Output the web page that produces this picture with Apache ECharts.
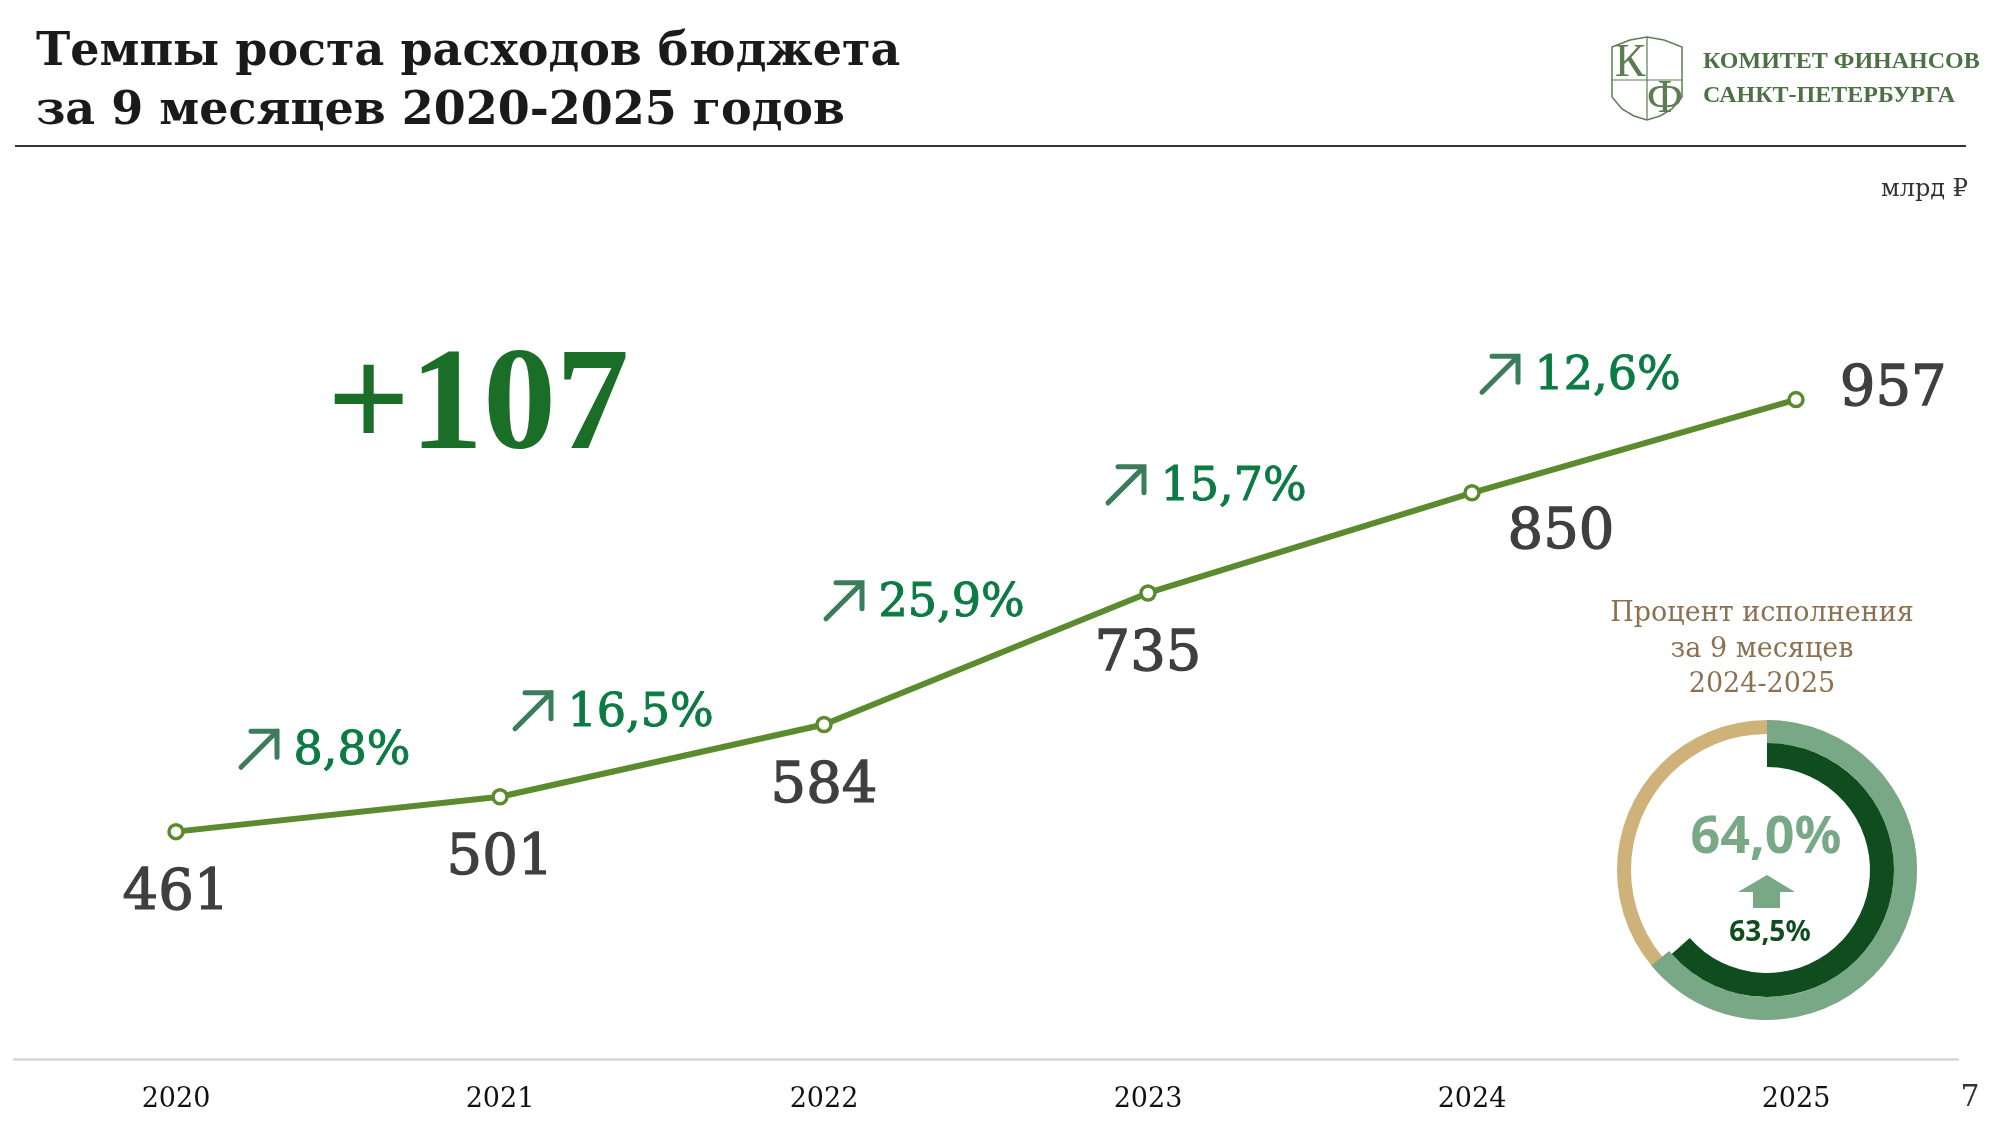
<!DOCTYPE html>
<html>
<head>
<meta charset="utf-8">
<title>Темпы роста расходов бюджета</title>
<script src="https://cdn.jsdelivr.net/npm/echarts@6/dist/echarts.min.js"></script>
<style>
  html, body { margin: 0; padding: 0; background: #fff; }
  #main { width: 2000px; height: 1125px; }
</style>
</head>
<body>
<div id="main"></div>
<script>
// данные
var years = ['2020', '2021', '2022', '2023', '2024', '2025'];
var spending = [461, 501, 584, 735, 850, 957];          // млрд ₽
var growthPct = [8.8, 16.5, 25.9, 15.7, 12.6];          // прирост к прошлому году, %
var executionYears = ['2024', '2025'];
var executionPct = [63.5, 64.0];                        // процент исполнения за 9 месяцев

// сдвиги подписей прироста (чтобы не наезжали на линию)
var growthNudge = [[-79, -65], [-129, -50], [-142, -58], [-184, -58], [-134, -72]];

var GREEN_LINE = '#5b8a2f';
var SERIF = '"DejaVu Serif", serif';

function pct(v) {
    return v.toFixed(1).replace('.', ',') + '%';
}

var myChart = echarts.init(document.getElementById('main'));

var donutCenter = [1767, 870];

var lineData = spending.map(function (v, i) {
    var item = {value: v};
    if (i === 4) {
        item.label = {offset: [89, -22]};
    }
    if (i === spending.length - 1) {
        item.label = {position: 'right', distance: 35, offset: [0, -9]};
    }
    return item;
});

var growthData = growthPct.map(function (g, i) {
    return {
        value: [i + 1, (spending[i] + spending[i + 1]) / 2, g],
        symbolOffset: growthNudge[i]
    };
});

var option = {
    animation: false,
    backgroundColor: '#fff',
    grid: {left: 14, right: 42, top: 275, bottom: 66, containLabel: false},
    xAxis: [
        {
            type: 'category',
            data: years,
            boundaryGap: true,
            axisLine: {show: true, lineStyle: {color: '#d6d6d6', width: 2.5}},
            axisTick: {show: false},
            splitLine: {show: false},
            axisLabel: {color: '#111', fontFamily: SERIF, fontSize: 27, margin: 27}
        },
        {
            type: 'value', min: 0, max: 6, show: false
        }
    ],
    yAxis: {
        type: 'value', min: 200, max: 1100, show: false
    },
    series: [
        {
            name: 'Расходы',
            type: 'line',
            data: lineData,
            lineStyle: {color: GREEN_LINE, width: 6},
            symbol: 'circle',
            symbolSize: 14,
            itemStyle: {color: '#fff', borderColor: GREEN_LINE, borderWidth: 3.5},
            label: {
                show: true,
                position: 'bottom',
                distance: 26,
                color: '#3f3f3f',
                textBorderColor: '#3f3f3f',
                textBorderWidth: 1.3,
                fontFamily: SERIF,
                fontSize: 56
            },
            z: 3
        },
        {
            name: 'Прирост',
            type: 'scatter',
            xAxisIndex: 1,
            data: growthData,
            symbol: 'path://M0,36L36,0M10,0L36,0L36,26',
            symbolSize: 36,
            itemStyle: {color: 'none', borderColor: '#3b7d5a', borderWidth: 5, borderCap: 'round', opacity: 1},
            label: {
                show: true,
                position: 'right',
                distance: 14,
                offset: [0, 3],
                color: '#0b7a43',
                textBorderColor: '#0b7a43',
                textBorderWidth: 1,
                fontFamily: SERIF,
                fontSize: 46,
                formatter: function (p) { return pct(p.value[2]); }
            },
            z: 4
        },
        {
            name: 'фон',
            type: 'pie',
            center: donutCenter,
            radius: [136, 150],
            silent: true,
            label: {show: false},
            labelLine: {show: false},
            itemStyle: {borderWidth: 0},
            data: [{value: 1, itemStyle: {color: '#cfb27a'}}]
        },
        {
            name: executionYears[1],
            type: 'pie',
            center: donutCenter,
            radius: [127, 150],
            startAngle: 90,
            silent: true,
            label: {show: false},
            labelLine: {show: false},
            itemStyle: {borderWidth: 0},
            data: [
                {value: executionPct[1], itemStyle: {color: '#78a886'}},
                {value: 100 - executionPct[1], itemStyle: {color: 'rgba(0,0,0,0)'}}
            ]
        },
        {
            name: executionYears[0],
            type: 'pie',
            center: donutCenter,
            radius: [103, 127],
            startAngle: 90,
            silent: true,
            label: {show: false},
            labelLine: {show: false},
            itemStyle: {borderWidth: 0},
            data: [
                {value: executionPct[0], itemStyle: {color: '#0f4d1e'}},
                {value: 100 - executionPct[0], itemStyle: {color: 'rgba(0,0,0,0)'}}
            ]
        }
    ],
    graphic: [
        // заголовок
        {type: 'text', x: 36, y: 53, style: {text: 'Темпы роста расходов бюджета', fill: '#1a1a1a', font: 'bold 46px "DejaVu Serif"', verticalAlign: 'middle'}},
        {type: 'text', x: 36, y: 112, style: {text: 'за 9 месяцев 2020-2025 годов', fill: '#1a1a1a', font: 'bold 46px "DejaVu Serif"', verticalAlign: 'middle'}},
        {type: 'line', shape: {x1: 15, y1: 146, x2: 1966, y2: 146}, style: {stroke: '#333', lineWidth: 2}},
        // логотип
        {type: 'polygon', shape: {points: [[1612, 47], [1630, 40], [1647, 37], [1664, 40], [1682, 47], [1682, 97],
            [1672, 109], [1660, 116], [1647, 120], [1634, 116], [1622, 109], [1612, 97]]},
            style: {fill: 'none', stroke: '#5d7d52', lineWidth: 1.5}},
        {type: 'line', shape: {x1: 1647, y1: 37, x2: 1647, y2: 120}, style: {stroke: '#5d7d52', lineWidth: 1.2}},
        {type: 'line', shape: {x1: 1612, y1: 80, x2: 1682, y2: 80}, style: {stroke: '#5d7d52', lineWidth: 1.2}},
        {type: 'text', x: 1630, y: 64, style: {text: 'К', fill: '#5d7d52', font: '46px "Liberation Serif"', align: 'center', verticalAlign: 'middle'}},
        {type: 'text', x: 1665, y: 100, style: {text: 'Ф', fill: '#5d7d52', font: '46px "Liberation Serif"', align: 'center', verticalAlign: 'middle'}},
        {type: 'text', x: 1703, y: 62, style: {text: 'КОМИТЕТ ФИНАНСОВ', fill: '#4e7045', font: 'bold 24px "Liberation Serif"', verticalAlign: 'middle'}},
        {type: 'text', x: 1703, y: 96, style: {text: 'САНКТ-ПЕТЕРБУРГА', fill: '#4e7045', font: 'bold 24px "Liberation Serif"', verticalAlign: 'middle'}},
        {type: 'text', x: 1968, y: 190, style: {text: 'млрд ₽', fill: '#333', font: '24px "DejaVu Serif"', align: 'right', verticalAlign: 'middle'}},
        // итоговый прирост
        {type: 'text', x: 478, y: 410, style: {
            text: '+' + (spending[spending.length - 1] - spending[spending.length - 2]),
            fill: '#1b6e28', font: 'bold 146px "Liberation Serif"', align: 'center', verticalAlign: 'middle'}},
        // подпись к кольцу
        {type: 'text', x: 1762, y: 614, style: {text: 'Процент исполнения', fill: '#8b7150', font: '27px "DejaVu Serif"', align: 'center', verticalAlign: 'middle'}},
        {type: 'text', x: 1762, y: 650, style: {text: 'за 9 месяцев', fill: '#8b7150', font: '27px "DejaVu Serif"', align: 'center', verticalAlign: 'middle'}},
        {type: 'text', x: 1762, y: 685, style: {text: executionYears.join('-'), fill: '#8b7150', font: '27px "DejaVu Serif"', align: 'center', verticalAlign: 'middle'}},
        {type: 'text', x: 1766, y: 838, style: {text: pct(executionPct[1]), fill: '#78a886', font: 'bold 52px "Noto Sans"', align: 'center', verticalAlign: 'middle'}},
        {type: 'polygon', shape: {points: [[1738, 892], [1767, 875], [1795, 892], [1780, 892], [1780, 908], [1753, 908], [1753, 892]]},
            style: {fill: '#78a886'}},
        {type: 'text', x: 1770, y: 933, style: {text: pct(executionPct[0]), fill: '#0f4d1e', font: 'bold 28px "Noto Sans"', align: 'center', verticalAlign: 'middle'}},
        // номер страницы
        {type: 'text', x: 1970, y: 1098, style: {text: '7', fill: '#333', font: '30px "DejaVu Serif"', align: 'center', verticalAlign: 'middle'}}
    ]
};

myChart.setOption(option);
</script>
</body>
</html>
